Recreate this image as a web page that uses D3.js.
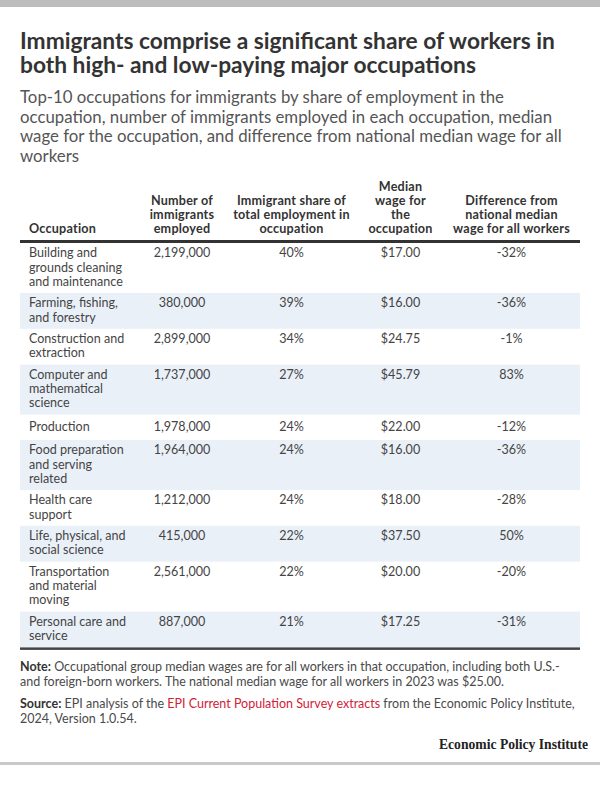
<!DOCTYPE html>
<html><head><meta charset="utf-8">
<script src="https://cdn.jsdelivr.net/npm/d3@7"></script>
<style>html,body{margin:0;padding:0;background:#fff;} svg{display:block;}</style>
</head><body><div id="chart"></div>
<script>
// ---------- data ----------
const titleLines = [
  "Immigrants comprise a significant share of workers in",
  "both high- and low-paying major occupations"
];
const subtitleLines = [
  "Top-10 occupations for immigrants by share of employment in the",
  "occupation, number of immigrants employed in each occupation, median",
  "wage for the occupation, and difference from national median wage for all",
  "workers"
];
const columnHeaders = [
  ["Occupation"],
  ["Number of", "immigrants", "employed"],
  ["Immigrant share of", "total employment in", "occupation"],
  ["Median", "wage for", "the", "occupation"],
  ["Difference from", "national median", "wage for all workers"]
];
const occupations = [
  "Building and\ngrounds cleaning\nand maintenance",
  "Farming, fishing,\nand forestry",
  "Construction and\nextraction",
  "Computer and\nmathematical\nscience",
  "Production",
  "Food preparation\nand serving\nrelated",
  "Health care\nsupport",
  "Life, physical, and\nsocial science",
  "Transportation\nand material\nmoving",
  "Personal care and\nservice"
];
const immigrantsEmployed = [2199000, 380000, 2899000, 1737000, 1978000, 1964000, 1212000, 415000, 2561000, 887000];
const immigrantShare = [40, 39, 34, 27, 24, 24, 24, 22, 22, 21];
const medianWage = [17.00, 16.00, 24.75, 45.79, 22.00, 16.00, 18.00, 37.50, 20.00, 17.25];
const wageDifference = [-32, -36, -1, 83, -12, -36, -28, 50, -20, -31];
const noteLines = [
  [["Note:", "b"], [" Occupational group median wages are for all workers in that occupation, including both U.S.-", "r"]],
  [["and foreign-born workers. The national median wage for all workers in 2023 was $25.00.", "r"]]
];
const sourceLines = [
  [["Source:", "b"], [" EPI analysis of the ", "r"], ["EPI Current Population Survey extracts", "link"], [" from the Economic Policy Institute,", "r"]],
  [["2024, Version 1.0.54.", "r"]]
];
const brand = "Economic Policy Institute";

// ---------- setup ----------
const W = 600, H = 787;
const SANS = "Lato, 'Open Sans', 'Noto Sans', sans-serif";
const SERIF = "'Liberation Serif', 'DejaVu Serif', serif";
const svg = d3.select("#chart").append("svg").attr("width", W).attr("height", H);

function measure(build, size) {
  const t = svg.append("text").attr("font-family", SANS).attr("font-size", size);
  build(t);
  const w = t.node().getComputedTextLength();
  t.remove();
  return w;
}
function fit(build, target) {
  return 20 * target / measure(build, 20);
}
function runs(textSel, parts) {
  parts.forEach(([s, k]) => {
    textSel.append("tspan").text(s)
      .attr("font-weight", k === "b" ? 700 : 400)
      .attr("fill", k === "b" ? "#333" : k === "link" ? "#cf2236" : "#4a4a4a");
  });
}

const titleSize = fit(t => t.attr("font-weight", 700).text(titleLines[0]), 535);
const subSize = fit(t => t.text(subtitleLines[2]), 542);
const bodySize = fit(t => t.text("grounds cleaning"), 93);
const noteSize = fit(t => runs(t, noteLines[0]), 540);
// header: cap the size so lines keep clear, make up width with tracking
const headRef = "wage for all workers";
const headSize = Math.min(12.6, fit(t => t.attr("font-weight", 700).text(headRef), 116.7));
const headTrack = (116.7 - measure(t => t.attr("font-weight", 700).text(headRef), headSize)) / (headRef.length - 1);

// ---------- frame ----------
svg.append("rect").attr("x", 0).attr("y", 0).attr("width", W).attr("height", 7).attr("fill", "#bdbdbd");
svg.append("rect").attr("x", 0).attr("y", 762).attr("width", W).attr("height", 3).attr("fill", "#c9c9c9");

// ---------- title / subtitle ----------
svg.append("g").selectAll("text").data(titleLines).join("text")
  .attr("x", 20).attr("y", (d, i) => 48.5 + i * 24.5)
  .attr("font-family", SANS).attr("font-weight", 700).attr("font-size", titleSize)
  .attr("fill", "#333").text(d => d);

svg.append("g").selectAll("text").data(subtitleLines).join("text")
  .attr("x", 20).attr("y", (d, i) => 103 + i * 19.7)
  .attr("font-family", SANS).attr("font-size", subSize)
  .attr("fill", "#555").text(d => d);

// ---------- table layout ----------
const left = 20, right = 580;
const colKeys = d3.range(columnHeaders.length);
const colX = d3.scaleOrdinal().domain(colKeys).range([29, 182, 291.5, 400.5, 511.5]);
const colAnchor = d3.scaleOrdinal().domain(colKeys).range(["start", "middle", "middle", "middle", "middle"]);

const lineH = 14.2;
const rowLines = occupations.map(o => o.split("\n").length);
const rowH = rowLines.map(n => n === 1 ? 25.4 : 7.4 + lineH * n);
const tableTop = 243;
const tops = [tableTop].concat(Array.from(d3.cumsum(rowH), v => tableTop + v));
const rowIdx = d3.range(occupations.length);
const yTop = d3.scaleOrdinal().domain(rowIdx).range(tops);
const yBase = i => yTop(i) + (rowH[i] - rowLines[i] * lineH) / 2 + 10.6;

// header
const headG = svg.append("g");
columnHeaders.forEach((lines, c) => {
  headG.append("g").selectAll("text").data(lines).join("text")
    .attr("x", colX(c))
    .attr("y", (d, i) => 232.7 - (lines.length - 1 - i) * 13.8)
    .attr("text-anchor", colAnchor(c))
    .attr("font-family", SANS).attr("font-weight", 700).attr("font-size", headSize)
    .attr("letter-spacing", headTrack)
    .attr("fill", "#333").text(d => d);
});
svg.append("rect").attr("x", left).attr("y", 240).attr("width", right - left).attr("height", 3).attr("fill", "#333");

// rows
const rowsG = svg.append("g");
rowIdx.forEach(i => {
  if (i % 2 === 1) {
    rowsG.append("rect").attr("x", left).attr("y", yTop(i)).attr("width", right - left)
      .attr("height", rowH[i]).attr("fill", "#eaf0f8");
  }
});
const fmtNum = d3.format(",");
const fmtWage = d3.format("$.2f");
const fmtPct = v => (v < 0 ? "-" : "") + Math.abs(v) + "%";
const cells = rowIdx.map(i => [
  occupations[i],
  fmtNum(immigrantsEmployed[i]),
  fmtPct(immigrantShare[i]),
  fmtWage(medianWage[i]),
  fmtPct(wageDifference[i])
]);
rowIdx.forEach(i => {
  cells[i].forEach((val, c) => {
    const lines = val.split("\n");
    rowsG.append("g").selectAll("text").data(lines).join("text")
      .attr("x", colX(c))
      .attr("y", (d, k) => yBase(i) + k * lineH)
      .attr("text-anchor", colAnchor(c))
      .attr("font-family", SANS).attr("font-size", bodySize)
      .attr("fill", "#444").text(d => d);
  });
});
const tableBottom = tops[tops.length - 1];
svg.append("rect").attr("x", left).attr("y", tableBottom).attr("width", right - left).attr("height", 2.5).attr("fill", "#444");

// ---------- notes ----------
const noteG = svg.append("g").attr("font-family", SANS).attr("font-size", noteSize);
noteLines.forEach((parts, i) => {
  runs(noteG.append("text").attr("x", 20).attr("y", 670.5 + i * 15.3), parts);
});
sourceLines.forEach((parts, i) => {
  runs(noteG.append("text").attr("x", 20).attr("y", 708 + i * 15.3), parts);
});

svg.append("text").attr("x", 588).attr("y", 748.5).attr("text-anchor", "end")
  .attr("font-family", SERIF).attr("font-weight", 700).attr("font-size", 14)
  .attr("textLength", 149).attr("lengthAdjust", "spacingAndGlyphs")
  .attr("fill", "#222").text(brand);
</script>
</body></html>
